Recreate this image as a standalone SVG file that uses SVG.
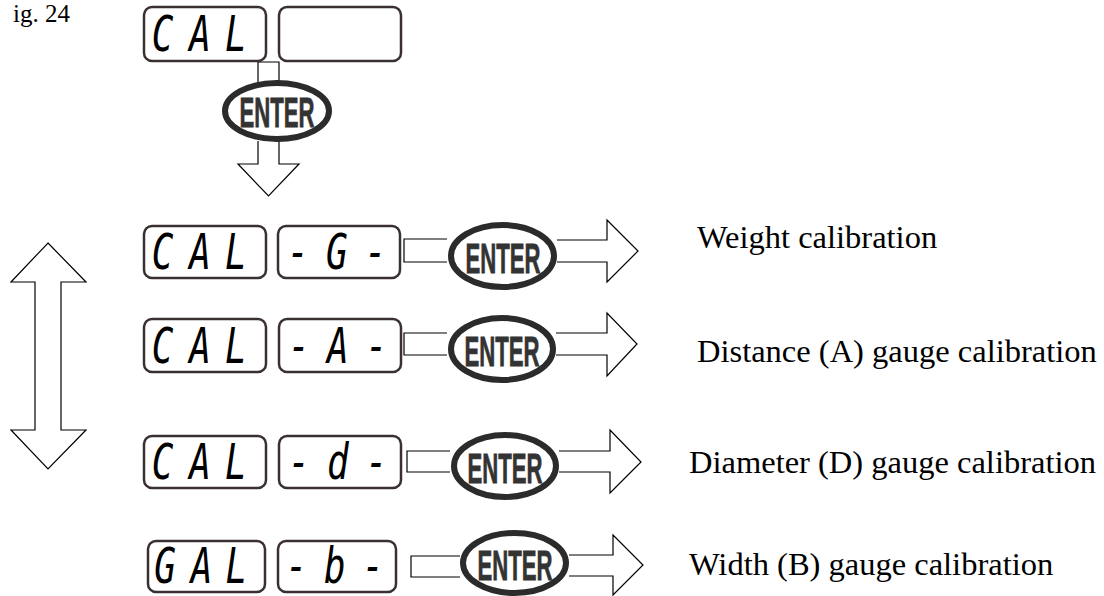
<svg xmlns="http://www.w3.org/2000/svg" width="1104" height="596" viewBox="0 0 1104 596">
<style>
.box{fill:#fff;stroke:#3a3030;stroke-width:2.5}
.seg{font-family:"DejaVu Sans Mono",monospace;font-style:oblique;font-size:50px;fill:#000;text-anchor:middle}
.ell{fill:#fff;stroke:#2b2b2b;stroke-width:6}
.ent{font-family:"Liberation Sans",Arial,sans-serif;font-weight:bold;font-size:43px;fill:#333;text-anchor:middle;stroke:#333;stroke-width:0.8}
.con{fill:#fff;stroke:#000;stroke-width:1.2}
.lbl{font-family:"Liberation Serif","Times New Roman",serif;font-size:32.5px;fill:#000}
</style>
<rect width="1104" height="596" fill="#fff"/>
<text class="lbl" x="13" y="22" style="font-size:25px">ig. 24</text>

<g id="connectors">
  <path class="con" d="M258,83 V62 H279 V83"/>
  <path class="con" d="M258,141 V164 H238 L268.5,196 L299,164 H279 V141"/>
  <path class="con" d="M447,239 H404 V262 H447"/>
  <path class="con" d="M557,240 H607 V220 L638,251 L607,282 V262 H557"/>
  <path class="con" d="M447,333 H404 V355 H447"/>
  <path class="con" d="M556,333 H607 V313 L637,344 L607,376 V355 H556"/>
  <path class="con" d="M450,451 H407 V472 H450"/>
  <path class="con" d="M559,451 H610 V430 L641,462 L610,493 V472 H559"/>
  <path class="con" d="M460,556 H411 V577 H460"/>
  <path class="con" d="M569,555 H613 V535 L643,565 L613,595 V576 H569"/>
  <polygon class="con" points="48,243 86,282 61,282 61,430 86,430 48,469 11,430 35,430 35,282 11,282"/>
</g>

<g id="top-display-cal">
  <rect class="box" x="144" y="7" width="122" height="54" rx="8"/>
  <text class="seg" transform="translate(205,51) scale(0.72,1)" x="-59 -7 43">CAL</text>
</g>
<g id="top-display-blank">
  <rect class="box" x="279" y="7" width="122" height="54" rx="8"/>
</g>
<g id="top-enter">
  <ellipse class="ell" cx="277" cy="111" rx="52" ry="28"/>
  <text class="ent" x="277" y="127" textLength="75" lengthAdjust="spacingAndGlyphs">ENTER</text>
</g>

<g id="row1-cal">
  <rect class="box" x="144" y="226" width="122" height="52" rx="8"/>
  <text class="seg" transform="translate(205,269) scale(0.72,1)" x="-59 -7 43">CAL</text>
</g>
<g id="row1-code">
  <rect class="box" x="278" y="226" width="122" height="52" rx="8"/>
  <text class="seg" transform="translate(339,269) scale(0.72,1)" x="-57 -3 51">-G-</text>
</g>
<g id="row1-enter">
  <ellipse class="ell" cx="502.5" cy="256" rx="51.5" ry="31"/>
  <text class="ent" x="503" y="273" textLength="75" lengthAdjust="spacingAndGlyphs">ENTER</text>
</g>
<text class="lbl" x="697" y="248">Weight calibration</text>

<g id="row2-cal">
  <rect class="box" x="144" y="319" width="122" height="53" rx="8"/>
  <text class="seg" transform="translate(205,363) scale(0.72,1)" x="-59 -7 43">CAL</text>
</g>
<g id="row2-code">
  <rect class="box" x="279" y="319" width="122" height="53" rx="8"/>
  <text class="seg" transform="translate(340,363) scale(0.72,1)" x="-57 -3 51">-A-</text>
</g>
<g id="row2-enter">
  <ellipse class="ell" cx="502" cy="349" rx="51" ry="31"/>
  <text class="ent" x="502" y="366" textLength="75" lengthAdjust="spacingAndGlyphs">ENTER</text>
</g>
<text class="lbl" x="697" y="362">Distance (A) gauge calibration</text>

<g id="row3-cal">
  <rect class="box" x="144" y="436" width="122" height="52" rx="8"/>
  <text class="seg" transform="translate(205,479) scale(0.72,1)" x="-59 -7 43">CAL</text>
</g>
<g id="row3-code">
  <rect class="box" x="279" y="436" width="122" height="52" rx="8"/>
  <text class="seg" transform="translate(340,479) scale(0.72,1)" x="-57 -3 51">-d-</text>
</g>
<g id="row3-enter">
  <ellipse class="ell" cx="505" cy="466" rx="51" ry="31"/>
  <text class="ent" x="505" y="483" textLength="75" lengthAdjust="spacingAndGlyphs">ENTER</text>
</g>
<text class="lbl" x="689" y="473">Diameter (D) gauge calibration</text>

<g id="row4-cal">
  <rect class="box" x="148" y="541" width="117" height="51" rx="8"/>
  <text class="seg" transform="translate(206,583) scale(0.72,1)" x="-57 -6 42">GAL</text>
</g>
<g id="row4-code">
  <rect class="box" x="278" y="541" width="118" height="51" rx="8"/>
  <text class="seg" transform="translate(337,583) scale(0.72,1)" x="-56 -3 50">-b-</text>
</g>
<g id="row4-enter">
  <ellipse class="ell" cx="514.5" cy="563" rx="51.5" ry="30"/>
  <text class="ent" x="515" y="580" textLength="75" lengthAdjust="spacingAndGlyphs">ENTER</text>
</g>
<text class="lbl" x="689" y="575">Width (B) gauge calibration</text>
</svg>
